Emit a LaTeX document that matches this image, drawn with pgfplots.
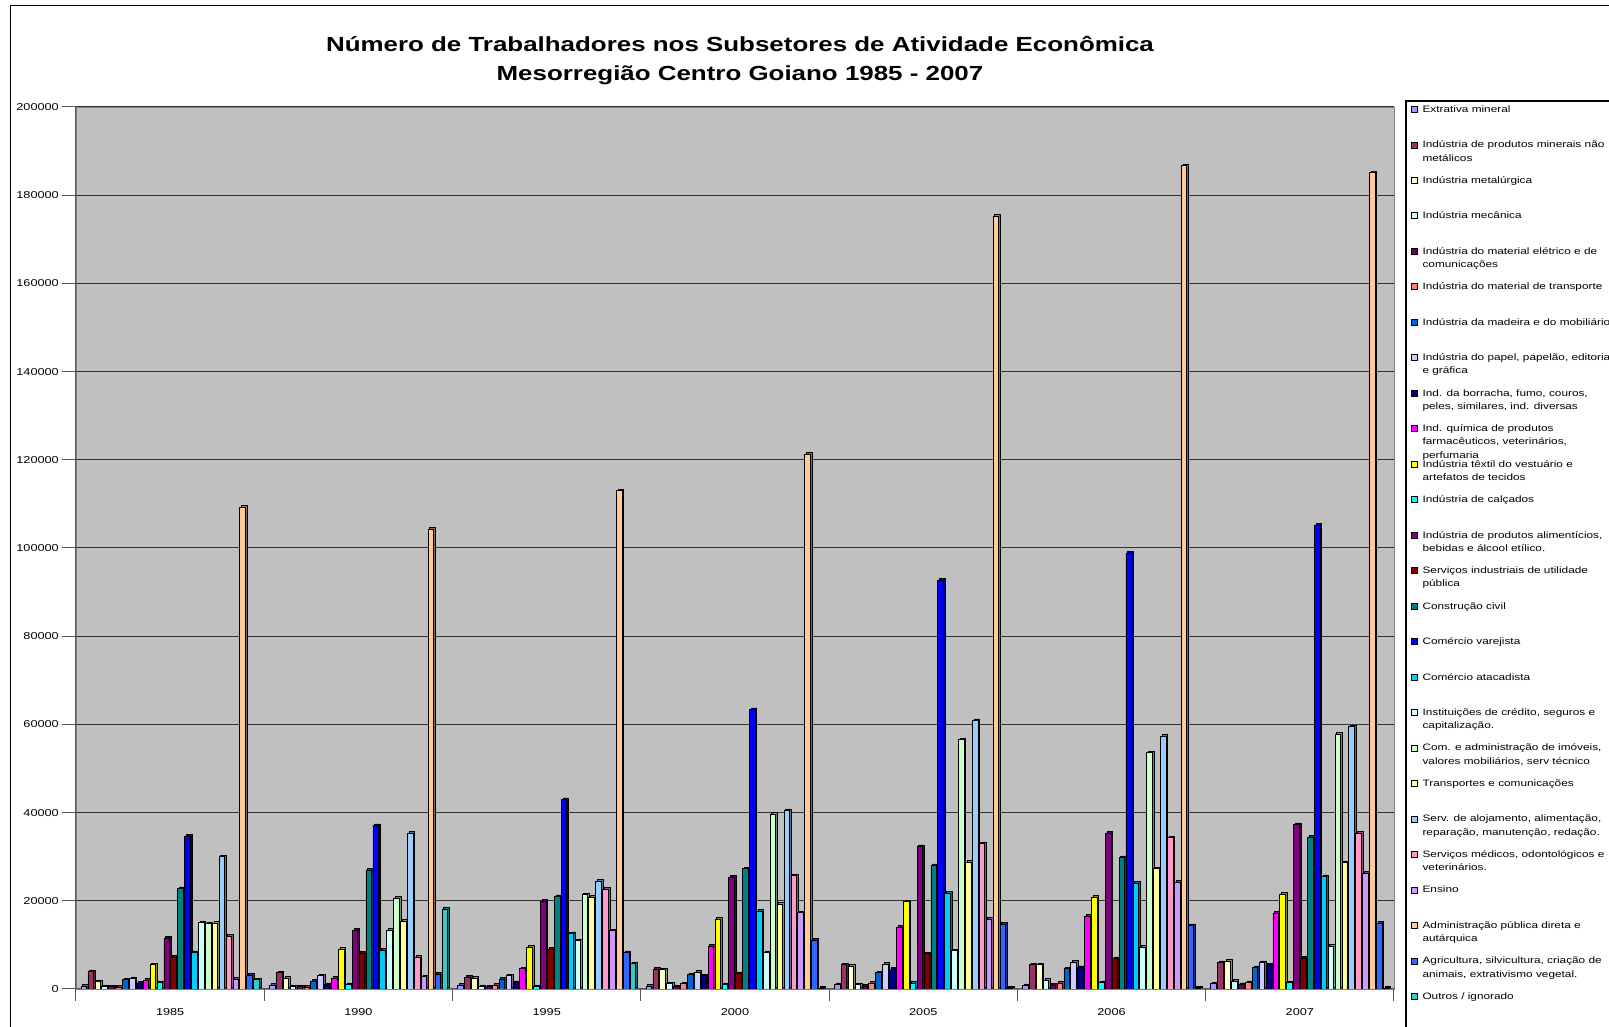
\documentclass[border=0pt]{standalone}
\usepackage{fontspec}
\setmainfont{Liberation Sans}[FakeStretch=1.27]
\usepackage{pgfplots}
\pgfplotsset{compat=1.18}
\usepackage{pgfplotstable}
\definecolor{c1}{HTML}{9999FF}
\definecolor{c2}{HTML}{993366}
\definecolor{c3}{HTML}{FFFFCC}
\definecolor{c4}{HTML}{CCFFFF}
\definecolor{c5}{HTML}{660066}
\definecolor{c6}{HTML}{FF8080}
\definecolor{c7}{HTML}{0066CC}
\definecolor{c8}{HTML}{CCCCFF}
\definecolor{c9}{HTML}{000080}
\definecolor{c10}{HTML}{FF00FF}
\definecolor{c11}{HTML}{FFFF00}
\definecolor{c12}{HTML}{00FFFF}
\definecolor{c13}{HTML}{800080}
\definecolor{c14}{HTML}{800000}
\definecolor{c15}{HTML}{008080}
\definecolor{c16}{HTML}{0000FF}
\definecolor{c17}{HTML}{00CCFF}
\definecolor{c18}{HTML}{CCFFFF}
\definecolor{c19}{HTML}{CCFFCC}
\definecolor{c20}{HTML}{FFFF99}
\definecolor{c21}{HTML}{99CCFF}
\definecolor{c22}{HTML}{FF99CC}
\definecolor{c23}{HTML}{CC99FF}
\definecolor{c24}{HTML}{FFCC99}
\definecolor{c25}{HTML}{3366FF}
\definecolor{c26}{HTML}{33CCCC}
\definecolor{wall}{HTML}{C0C0C0}

\pgfplotstableread{
x s1 s2 s3 s4 s5 s6 s7 s8 s9 s10 s11 s12 s13 s14 s15 s16 s17 s18 s19 s20 s21 s22 s23 s24 s25 s26
0 700 4000 1700 600 500 450 2100 2400 1300 2000 5500 1500 11500 7300 22800 34700 8300 15100 14800 15000 30000 12000 2300 109300 3100 2100
1 900 3700 2450 600 500 400 1800 3000 1000 2500 9000 1000 13300 8200 27000 37100 8800 13300 20600 15400 35300 7300 2800 104300 3400 18100
2 900 2700 2500 600 500 900 2300 3000 1500 4600 9500 600 19900 9000 21000 43000 12600 11000 21400 20800 24500 22700 13200 113000 8300 5800
3 700 4500 4400 1200 500 1200 3300 3800 3000 9700 15800 1000 25400 3500 27300 63400 17700 8300 39700 19300 40500 25700 17300 121300 11100 200
4 1000 5500 5200 1000 700 1300 3700 5700 4500 14000 19800 1300 32300 8000 28000 92700 21800 8700 56600 28800 60900 33000 15800 175300 14700 200
5 800 5500 5500 2000 900 1300 4600 6100 4900 16500 20800 1500 35300 6900 29800 98900 24000 9500 53600 27300 57400 34300 24200 186700 14400 200
6 1200 6000 6300 1800 1000 1500 4900 6000 5400 17200 21500 1500 37300 7000 34500 105200 25500 9700 57800 28700 59500 35300 26300 185100 15000 200
}\data

\makeatletter
\tikzset{nopre/.code={\let\tikz@preactions\pgfutil@empty}}
\makeatother
\newcommand\lgd[1]{\smash{\parbox[t]{260pt}{\fontsize{9.3}{13.3}\selectfont #1}}\rule[-25.48pt]{0pt}{35.48pt}}
\pgfplotsset{bx/.style={fill=#1, draw=black, line width=0.6pt,
  preaction={fill=#1!55!black, draw=black, line width=0.5pt, transform canvas={xshift=1.6pt, yshift=1.6pt}}}}

\begin{document}
\begin{tikzpicture}
\useasboundingbox (0,0) rectangle (1609pt,1027pt);
\fill[white] (0,0) rectangle (1609pt,1027pt);
\draw[black, line width=1pt] (10pt,-20pt) -- (10pt,1021pt) -- (1640pt,1021pt);
\begin{axis}[
  at={(76pt,38pt)}, anchor=south west,
  scale only axis, width=1318pt, height=882pt,
  xmin=-0.5, xmax=6.5, ymin=0, ymax=200000,
  ybar=1.3pt, bar width=5.6pt,
  axis x line*=bottom, axis y line*=left,
  axis line style={draw=black!65, line width=1pt},
  axis background/.style={fill=wall, draw=black!50},
  ymajorgrids, grid style={black!80, line width=1pt},
  ytick={0,20000,...,200000},
  scaled y ticks=false,
  /pgf/number format/.cd, fixed, 1000 sep={}, assume math mode=true, /pgfplots/.cd,
  xtick={0,1,2,3,4,5,6},
  xticklabels={1985,1990,1995,2000,2005,2006,2007},
  minor xtick={-0.5,0.5,...,6.5},
  tick align=outside,
  major tick length=14pt,
  minor tick length=12pt,
  major x tick style={draw=none},
  tick style={draw=black!65, line width=1pt},
  ticklabel style={font=\fontsize{10}{12}\selectfont, text=black},
  xticklabel style={inner sep=0pt, yshift=-5.4pt},
  yticklabel style={inner sep=3pt},
  title={Número de Trabalhadores nos Subsetores de Atividade Econômica\\Mesorregião Centro Goiano 1985 - 2007},
  title style={at={(axis description cs:0.5038,1.046)}, anchor=center, align=center, font=\bfseries\fontsize{20.4}{29}\selectfont},
  every axis plot post/.append style={legend image code/.code={\draw[##1, nopre, draw=black, line width=0.6pt] (0pt,0pt) rectangle (6pt,6pt);}},
  legend style={at={(axis description cs:1.0129,1.0053)}, anchor=north west,
    draw=none, fill=none, inner sep=0pt, outer sep=0pt, row sep=0pt,
    cells={anchor=base west},
    nodes={inner sep=0pt, outer sep=0pt, text depth={}, text height={}},
    font=\fontsize{9.3}{13.3}\selectfont,
    /tikz/every odd column/.append style={column sep=5pt}},
]
\addplot[bx=c1] table[x=x,y=s1]{\data};\addlegendentry{\lgd{Extrativa mineral}}
\addplot[bx=c2] table[x=x,y=s2]{\data};\addlegendentry{\lgd{Indústria de produtos minerais não\\metálicos}}
\addplot[bx=c3] table[x=x,y=s3]{\data};\addlegendentry{\lgd{Indústria metalúrgica}}
\addplot[bx=c4] table[x=x,y=s4]{\data};\addlegendentry{\lgd{Indústria mecânica}}
\addplot[bx=c5] table[x=x,y=s5]{\data};\addlegendentry{\lgd{Indústria do material elétrico e de\\comunicações}}
\addplot[bx=c6] table[x=x,y=s6]{\data};\addlegendentry{\lgd{Indústria do material de transporte}}
\addplot[bx=c7] table[x=x,y=s7]{\data};\addlegendentry{\lgd{Indústria da madeira e do mobiliário}}
\addplot[bx=c8] table[x=x,y=s8]{\data};\addlegendentry{\lgd{Indústria do papel, papelão, editorial\\e gráfica}}
\addplot[bx=c9] table[x=x,y=s9]{\data};\addlegendentry{\lgd{Ind. da borracha, fumo, couros,\\peles, similares, ind. diversas}}
\addplot[bx=c10] table[x=x,y=s10]{\data};\addlegendentry{\lgd{Ind. química de produtos\\farmacêuticos, veterinários,\\perfumaria}}
\addplot[bx=c11] table[x=x,y=s11]{\data};\addlegendentry{\lgd{Indústria têxtil do vestuário e\\artefatos de tecidos}}
\addplot[bx=c12] table[x=x,y=s12]{\data};\addlegendentry{\lgd{Indústria de calçados}}
\addplot[bx=c13] table[x=x,y=s13]{\data};\addlegendentry{\lgd{Indústria de produtos alimentícios,\\bebidas e álcool etílico.}}
\addplot[bx=c14] table[x=x,y=s14]{\data};\addlegendentry{\lgd{Serviços industriais de utilidade\\pública}}
\addplot[bx=c15] table[x=x,y=s15]{\data};\addlegendentry{\lgd{Construção civil}}
\addplot[bx=c16] table[x=x,y=s16]{\data};\addlegendentry{\lgd{Comércio varejista}}
\addplot[bx=c17] table[x=x,y=s17]{\data};\addlegendentry{\lgd{Comércio atacadista}}
\addplot[bx=c18] table[x=x,y=s18]{\data};\addlegendentry{\lgd{Instituições de crédito, seguros e\\capitalização.}}
\addplot[bx=c19] table[x=x,y=s19]{\data};\addlegendentry{\lgd{Com. e administração de imóveis,\\valores mobiliários, serv técnico}}
\addplot[bx=c20] table[x=x,y=s20]{\data};\addlegendentry{\lgd{Transportes e comunicações}}
\addplot[bx=c21] table[x=x,y=s21]{\data};\addlegendentry{\lgd{Serv. de alojamento, alimentação,\\reparação, manutenção, redação.}}
\addplot[bx=c22] table[x=x,y=s22]{\data};\addlegendentry{\lgd{Serviços médicos, odontológicos e\\veterinários.}}
\addplot[bx=c23] table[x=x,y=s23]{\data};\addlegendentry{\lgd{Ensino}}
\addplot[bx=c24] table[x=x,y=s24]{\data};\addlegendentry{\lgd{Administração pública direta e\\autárquica}}
\addplot[bx=c25] table[x=x,y=s25]{\data};\addlegendentry{\lgd{Agricultura, silvicultura, criação de\\animais, extrativismo vegetal.}}
\addplot[bx=c26] table[x=x,y=s26]{\data};\addlegendentry{\lgd{Outros / ignorado}}
\end{axis}
\draw[black, line width=1.2pt] (1406pt,-20pt) -- (1406pt,926pt) -- (1640pt,926pt);
\end{tikzpicture}
\end{document}
